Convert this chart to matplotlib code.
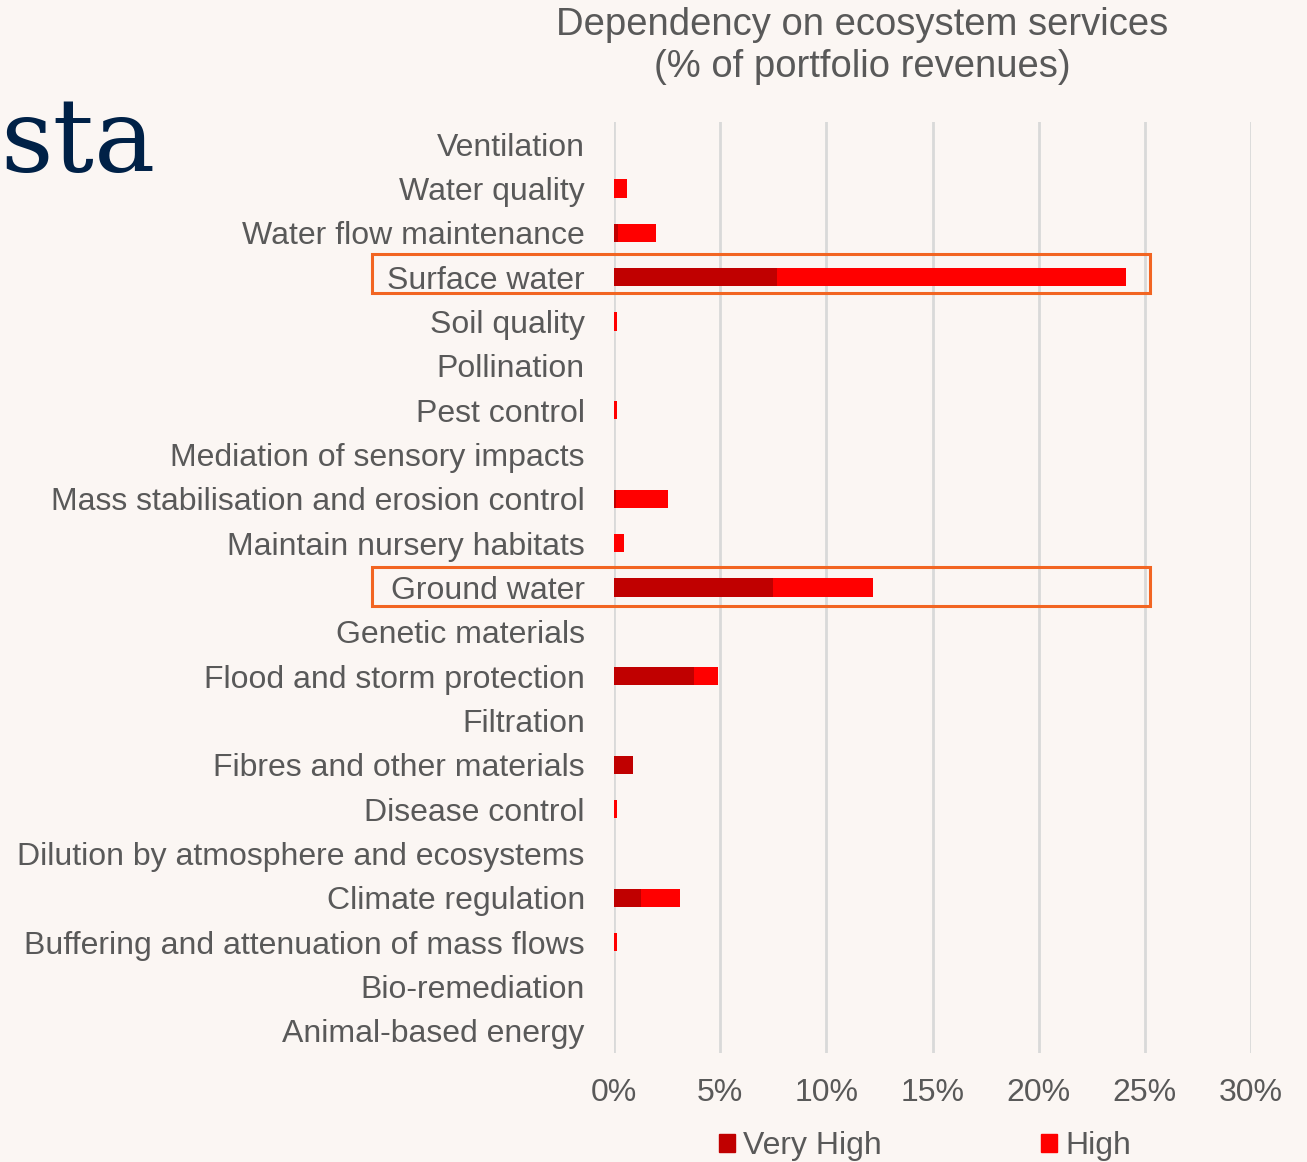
import matplotlib.pyplot as plt
from matplotlib.patches import Rectangle, Patch
from matplotlib.ticker import FuncFormatter

# services, top to bottom as shown
services = ["Ventilation", "Water quality", "Water flow maintenance", "Surface water",
            "Soil quality", "Pollination", "Pest control", "Mediation of sensory impacts",
            "Mass stabilisation and erosion control", "Maintain nursery habitats",
            "Ground water", "Genetic materials", "Flood and storm protection", "Filtration",
            "Fibres and other materials", "Disease control",
            "Dilution by atmosphere and ecosystems", "Climate regulation",
            "Buffering and attenuation of mass flows", "Bio-remediation",
            "Animal-based energy"]
very_high = [0, 0, 0.2, 7.7, 0, 0, 0, 0, 0.1, 0, 7.5, 0, 3.75, 0, 0.9, 0, 0, 1.25, 0, 0, 0]
high = [0, 0.6, 1.8, 16.4, 0.15, 0, 0.15, 0, 2.45, 0.45, 4.7, 0, 1.15, 0, 0, 0.15, 0, 1.85, 0.15, 0, 0]

bg = "#FBF6F3"
grey = "#595959"
plt.rcParams["font.family"] = ["Liberation Sans", "DejaVu Sans"]

fig = plt.figure(figsize=(13.07, 11.62), dpi=100, facecolor=bg)
ax = fig.add_axes([614 / 1307, 1 - 1053 / 1162, (1251 - 614) / 1307, (1053 - 122) / 1162])
ax.set_facecolor(bg)

y = list(range(len(services)))
ax.barh(y, very_high, height=0.42, color="#C00000", linewidth=0, zorder=3)
ax.barh(y, high, left=very_high, height=0.42, color="#FF0000", linewidth=0, zorder=3)

ax.set_xlim(0, 30)
ax.set_ylim(len(services) - 0.5, -0.5)
ax.set_xticks(range(0, 31, 5))
ax.xaxis.set_major_formatter(FuncFormatter(lambda v, p: f"{v:.0f}%"))
ax.set_yticks(y)
ax.set_yticklabels(services)
ax.tick_params(axis="both", length=0, labelsize=23, labelcolor=grey)
ax.tick_params(axis="y", pad=21)
ax.tick_params(axis="x", pad=18)
ax.grid(axis="x", color="#D9D9D9", linewidth=2, zorder=0)
for s in ax.spines.values():
    s.set_visible(False)

# orange highlight boxes
for top in (254, 567):
    fig.patches.append(Rectangle((372 / 1307, 1 - (top + 39) / 1162), 778 / 1307, 39 / 1162,
                                 transform=fig.transFigure, fill=False,
                                 edgecolor="#F26522", linewidth=2.2))

fig.text(862 / 1307, 1 - 46 / 1162, "Dependency on ecosystem services\n(% of portfolio revenues)",
         ha="center", va="center", fontsize=27.5, color=grey, linespacing=1.22)

fig.text(0.0, 1 - 172 / 1162, "sta", fontsize=74, family="DejaVu Serif",
         color="#002147", ha="left", va="baseline")

handles = [Patch(color="#C00000", label="Very High"), Patch(color="#FF0000", label="High")]
fig.legend(handles=handles, loc="center", bbox_to_anchor=(925 / 1307, 1 - 1146 / 1162),
           ncol=2, frameon=False, fontsize=23, labelcolor=grey, handlelength=0.5,
           handleheight=0.5, handletextpad=0.26, columnspacing=5.0, borderpad=0)

fig.savefig("out.png", facecolor=bg)
